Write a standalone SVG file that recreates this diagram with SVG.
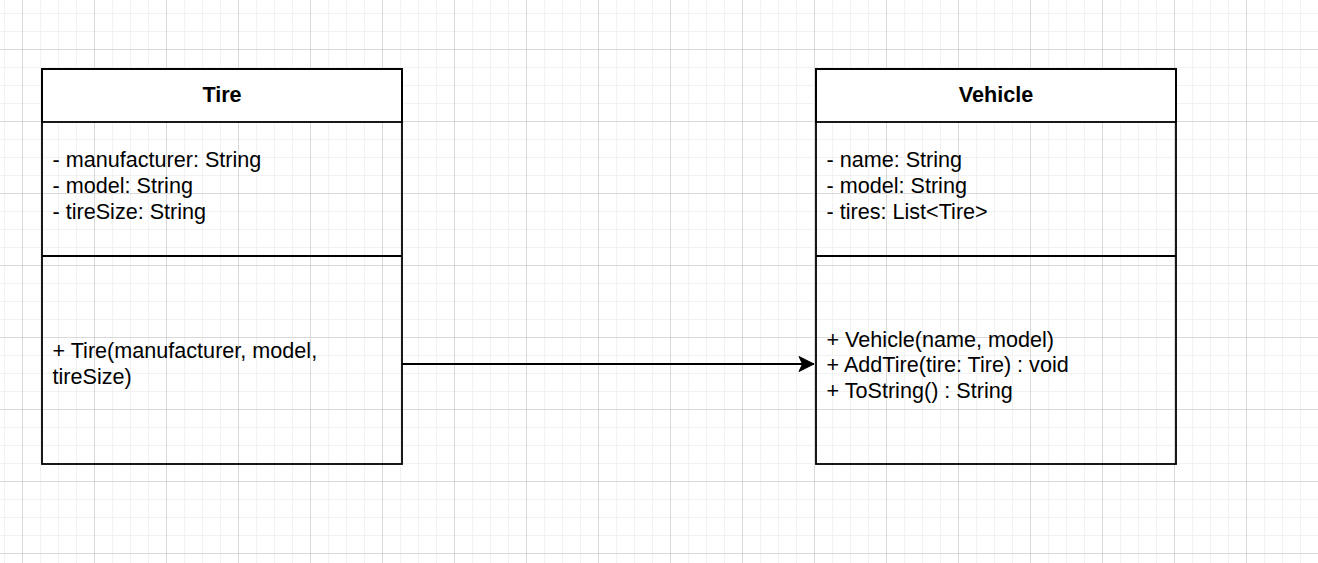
<svg xmlns="http://www.w3.org/2000/svg" width="1318" height="563" viewBox="0 0 1318 563">
<defs>
<pattern id="grid" patternUnits="userSpaceOnUse" x="22" y="49" width="72" height="72">
<path d="M18.5 0V72M36.5 0V72M54.5 0V72M0 18.5H72M0 36.5H72M0 54.5H72" stroke="#f2f2f2" stroke-width="1" fill="none"/>
<path d="M0.5 0V72M0 0.5H72" stroke="#d9d9d9" stroke-width="1" fill="none"/>
</pattern>
<marker id="arrow" markerUnits="userSpaceOnUse" markerWidth="20" markerHeight="20" viewBox="0 0 20 20" refX="16" refY="10" orient="auto">
<path d="M16 10 L1 2.5 L4.5 10 L1 17.5 Z" fill="#000" stroke="#000" stroke-width="1"/>
</marker>
</defs>
<style>
.box{fill:none;stroke:#000;stroke-width:1.8}
.head{fill:#fff;stroke:#000;stroke-width:1.8}
.sep{stroke:#000;stroke-width:1.8}
.title{font-family:"Liberation Sans",Arial,sans-serif;font-size:21.6px;font-weight:bold;text-anchor:middle;fill:#000}
.t{font-family:"Liberation Sans",Arial,sans-serif;font-size:21.6px;fill:#000}
.edge{stroke:#000;stroke-width:1.8;fill:none}
</style>
<rect width="1318" height="563" fill="#fff"/>
<rect width="1318" height="563" fill="url(#grid)"/>
<g id="connectors">
<path class="edge" d="M402 364 H814" marker-end="url(#arrow)"/>
</g>
<g id="tire">
<rect class="head" x="42" y="69" width="360" height="53"/>
<rect class="box" x="42" y="69" width="360" height="395"/>
<line class="sep" x1="42" y1="256" x2="402" y2="256"/>
<text class="title" x="222" y="101.5">Tire</text>
<text class="t" x="52.5" y="166.5">- manufacturer: String</text>
<text class="t" x="52.5" y="192.5">- model: String</text>
<text class="t" x="52.5" y="218.5">- tireSize: String</text>
<text class="t" x="52.5" y="358">+ Tire(manufacturer, model,</text>
<text class="t" x="52.5" y="384">tireSize)</text>
</g>
<g id="vehicle">
<rect class="head" x="816" y="69" width="360" height="53"/>
<rect class="box" x="816" y="69" width="360" height="395"/>
<line class="sep" x1="816" y1="256" x2="1176" y2="256"/>
<text class="title" x="996" y="101.5">Vehicle</text>
<text class="t" x="826.5" y="166.5">- name: String</text>
<text class="t" x="826.5" y="192.5">- model: String</text>
<text class="t" x="826.5" y="218.5">- tires: List&lt;Tire&gt;</text>
<text class="t" x="826.5" y="346.5">+ Vehicle(name, model)</text>
<text class="t" x="826.5" y="372">+ AddTire(tire: Tire) : void</text>
<text class="t" x="826.5" y="398">+ ToString() : String</text>
</g>
</svg>
